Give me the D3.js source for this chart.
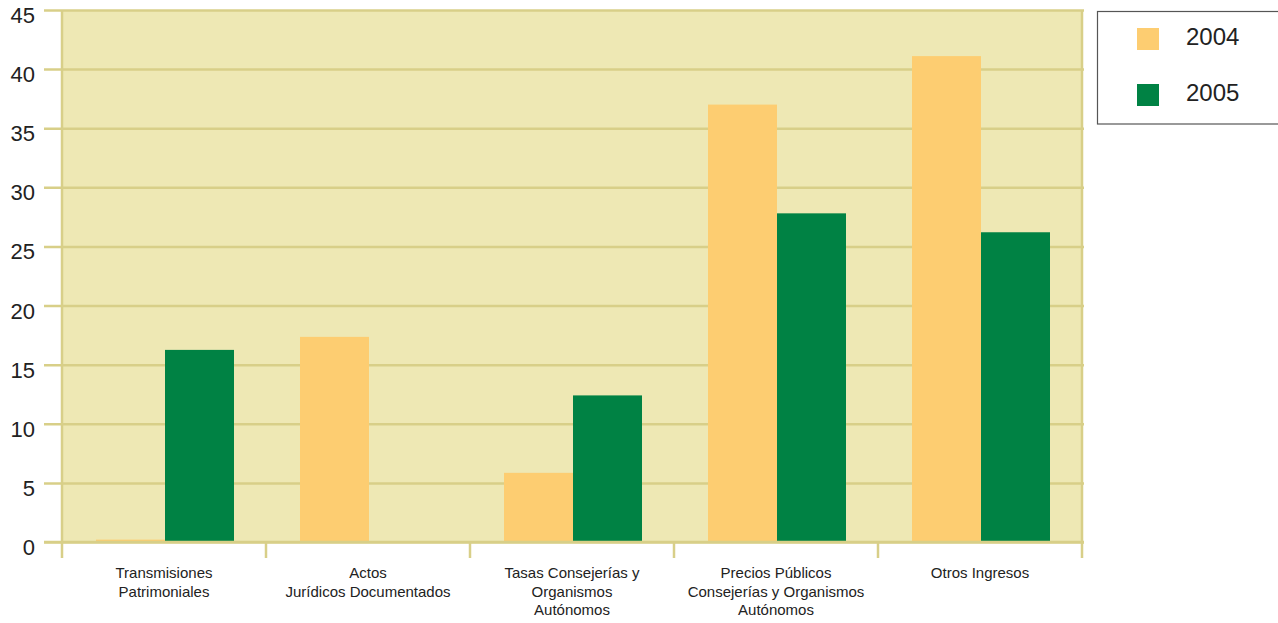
<!DOCTYPE html>
<html>
<head>
<meta charset="utf-8">
<script src="https://cdn.jsdelivr.net/npm/d3@7"></script>
<style>
  html, body { margin: 0; padding: 0; background: #ffffff; }
  svg { display: block; }
</style>
</head>
<body>
<svg id="chart" width="1278" height="623"></svg>
<script>
// ---- data ----
const categories = [
  ["Transmisiones", "Patrimoniales"],
  ["Actos", "Jurídicos Documentados"],
  ["Tasas Consejerías y", "Organismos", "Autónomos"],
  ["Precios Públicos", "Consejerías y Organismos", "Autónomos"],
  ["Otros Ingresos"]
];
const seriesNames = ["2004", "2005"];
const values2004 = [0.2, 17.35, 5.85, 37.0, 41.1];
const values2005 = [16.25, 0, 12.4, 27.8, 26.2];
const yTicks = [0, 5, 10, 15, 20, 25, 30, 35, 40, 45];

// ---- styles ----
const colors = { "2004": "#FDCD71", "2005": "#008244" };
const bgColor = "#EEE8B4";
const gridColor = "#D8CF88";
const textColor = "#222222";
const fontFamily = "'Liberation Sans', Arial, sans-serif";

const svg = d3.select("#chart");
const plotLeft = 62, plotRight = 1082, plotTop = 10, plotBottom = 542;

const catKeys = categories.map(c => c.join(" "));
const x0 = d3.scaleBand().domain(catKeys).range([plotLeft, plotRight]).padding(0);
const bw = x0.bandwidth();
const x1 = d3.scaleBand().domain(seriesNames).range([34, bw - 32]).padding(0);
const y = d3.scaleLinear().domain([0, 45]).range([plotBottom, plotTop]);

// background
svg.append("rect")
  .attr("x", plotLeft).attr("y", y(45))
  .attr("width", plotRight - plotLeft).attr("height", y(0) - y(45))
  .attr("fill", bgColor);

// gridlines + y labels via axis
const gridRight = 1084, gridLeft = 44;
const yAxis = d3.axisLeft(y)
  .tickValues(yTicks)
  .tickSize(gridRight - gridLeft)
  .tickPadding(gridRight - gridLeft - (gridRight - gridLeft) + (gridRight - 35 - (gridRight - gridLeft)))
  .tickFormat(d3.format("d"));
const gAxis = svg.append("g")
  .attr("transform", `translate(${gridRight},0)`)
  .call(yAxis);
gAxis.select(".domain").remove();
gAxis.selectAll(".tick line")
  .attr("stroke", gridColor).attr("stroke-width", 2.5);
gAxis.selectAll(".tick text")
  .attr("font-family", fontFamily)
  .attr("font-size", 22)
  .attr("fill", textColor)
  .attr("dy", "0.57em");

// bars
const data = catKeys.map((k, i) => ({ key: k, vals: [
  { s: "2004", v: values2004[i] },
  { s: "2005", v: values2005[i] }
]}));
const gBars = svg.append("g");
gBars.selectAll("g")
  .data(data)
  .join("g")
  .attr("transform", d => `translate(${x0(d.key)},0)`)
  .selectAll("rect")
  .data(d => d.vals)
  .join("rect")
  .attr("x", d => x1(d.s))
  .attr("width", x1.bandwidth())
  .attr("y", d => y(d.v))
  .attr("height", d => y(0) - y(d.v))
  .attr("fill", d => colors[d.s]);

// zero line on top
svg.append("line")
  .attr("x1", gridLeft).attr("x2", gridRight)
  .attr("y1", y(0)).attr("y2", y(0))
  .attr("stroke", gridColor).attr("stroke-width", 2.5);

// vertical borders and category boundary ticks
const boundaries = catKeys.map(k => x0(k)).concat([x0(catKeys[catKeys.length - 1]) + bw]);
svg.append("g").selectAll("line")
  .data(boundaries)
  .join("line")
  .attr("x1", d => d).attr("x2", d => d)
  .attr("y1", (d, i) => (i === 0 || i === boundaries.length - 1) ? y(45) : y(0))
  .attr("y2", 558)
  .attr("stroke", gridColor).attr("stroke-width", 2.5);

// category labels
const gLab = svg.append("g");
gLab.selectAll("text")
  .data(categories)
  .join("text")
  .attr("font-family", fontFamily)
  .attr("font-size", 15)
  .attr("fill", textColor)
  .attr("text-anchor", "middle")
  .each(function(lines, i) {
    const cx = x0(catKeys[i]) + bw / 2;
    d3.select(this).selectAll("tspan")
      .data(lines)
      .join("tspan")
      .attr("x", cx)
      .attr("y", (l, j) => 578 + j * 18.5)
      .text(l => l);
  });

// legend
const gLeg = svg.append("g");
gLeg.append("rect")
  .attr("x", 1097.5).attr("y", 11.5)
  .attr("width", 220).attr("height", 112.5)
  .attr("fill", "#ffffff").attr("stroke", "#555555").attr("stroke-width", 1.2);
seriesNames.forEach((s, i) => {
  gLeg.append("rect")
    .attr("x", 1137).attr("y", 28 + i * 56)
    .attr("width", 22).attr("height", 22)
    .attr("fill", colors[s]);
  gLeg.append("text")
    .attr("x", 1186).attr("y", 45 + i * 56)
    .attr("font-family", fontFamily)
    .attr("font-size", 24)
    .attr("fill", textColor)
    .text(s);
});
</script>
</body>
</html>
